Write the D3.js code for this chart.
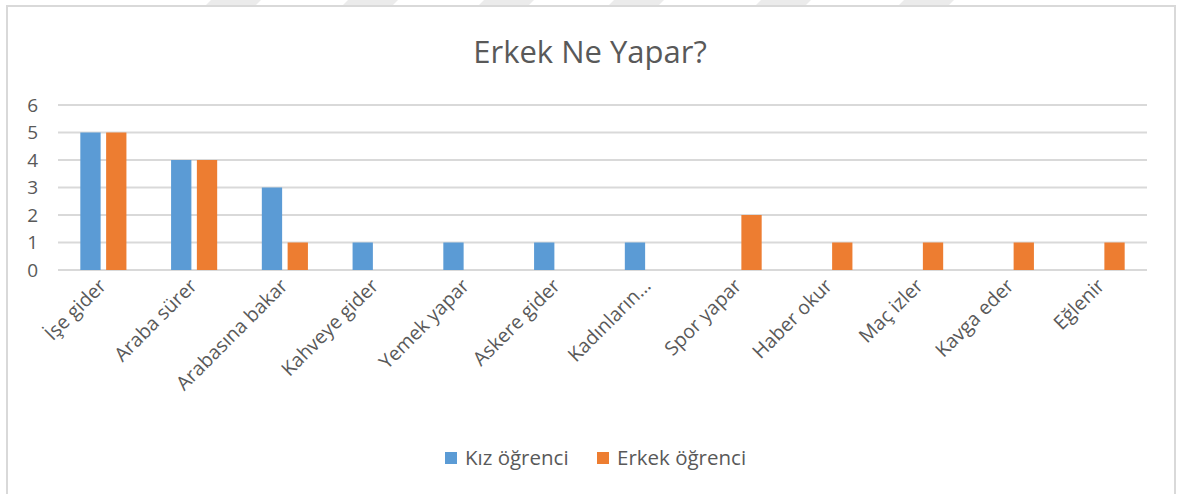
<!DOCTYPE html>
<html lang="tr">
<head>
<meta charset="utf-8">
<title>Erkek Ne Yapar?</title>
<script src="https://cdn.jsdelivr.net/npm/d3@7"></script>
<style>
  body { margin: 0; background: #fff; }
  svg text { font-family: "Open Sans", "Liberation Sans", sans-serif; fill: #595959; }
</style>
</head>
<body>
<script>
// chart values
var categories = ["İşe gider", "Araba sürer", "Arabasına bakar", "Kahveye gider", "Yemek yapar",
                  "Askere gider", "Kadınların…", "Spor yapar", "Haber okur", "Maç izler",
                  "Kavga eder", "Eğlenir"];
var seriesNames = ["Kız öğrenci", "Erkek öğrenci"];
var kizValues   = [5, 4, 3, 1, 1, 1, 1, 0, 0, 0, 0, 0];
var erkekValues = [5, 4, 1, 0, 0, 0, 0, 2, 1, 1, 1, 1];
var yTicks = [0, 1, 2, 3, 4, 5, 6];
var colors = ["#5b9bd5", "#ed7d31"];

var w = 1182, h = 494;
var plotLeft = 58, plotRight = 1147, plotTop = 105, plotBottom = 270;

var dataset = categories.map(function(c, i) {
  return { cat: c, values: [kizValues[i], erkekValues[i]] };
});

var svg = d3.select("body").append("svg")
  .attr("width", w)
  .attr("height", h);

// faint watermark strip at the top edge
var marks = [205, 342, 478, 608, 755, 898];
svg.selectAll("polygon.wm")
  .data(marks)
  .enter()
  .append("polygon")
  .attr("class", "wm")
  .attr("points", function(d) {
    return [[d + 6, 0], [d + 56, 0], [d + 50, 6], [d, 6]].join(" ");
  })
  .attr("fill", "#ebebeb");

// chart frame
svg.append("rect")
  .attr("x", 7).attr("y", 6)
  .attr("width", 1168).attr("height", 520)
  .attr("fill", "none")
  .attr("stroke", "#d9d9d9")
  .attr("stroke-width", 2);

var x0 = d3.scaleBand()
  .domain(categories)
  .range([plotLeft, plotRight])
  .paddingInner(0.492)
  .paddingOuter(0.246);

var x1 = d3.scaleBand()
  .domain(seriesNames)
  .range([0, x0.bandwidth()])
  .paddingInner(0.213);

var y = d3.scaleLinear()
  .domain([0, 6])
  .range([plotBottom, plotTop]);

// gridlines
svg.selectAll("line.grid")
  .data(yTicks)
  .enter()
  .append("line")
  .attr("class", "grid")
  .attr("x1", plotLeft).attr("x2", plotRight)
  .attr("y1", function(d) { return y(d); })
  .attr("y2", function(d) { return y(d); })
  .attr("stroke", "#d9d9d9")
  .attr("stroke-width", 2);

// y labels
svg.selectAll("text.ytick")
  .data(yTicks)
  .enter()
  .append("text")
  .attr("class", "ytick")
  .attr("x", 38)
  .attr("y", function(d) { return y(d); })
  .attr("dy", "0.36em")
  .attr("text-anchor", "end")
  .attr("font-size", "19px")
  .text(function(d) { return d; });

// bars
var groups = svg.selectAll("g.cat")
  .data(dataset)
  .enter()
  .append("g")
  .attr("class", "cat")
  .attr("transform", function(d) { return "translate(" + x0(d.cat) + ",0)"; });

groups.selectAll("rect")
  .data(function(d) {
    return d.values.map(function(v, i) { return { s: seriesNames[i], v: v, i: i }; });
  })
  .enter()
  .append("rect")
  .attr("x", function(d) { return x1(d.s); })
  .attr("y", function(d) { return y(d.v); })
  .attr("width", x1.bandwidth())
  .attr("height", function(d) { return y(0) - y(d.v); })
  .attr("fill", function(d) { return colors[d.i]; });

// category labels, rotated
svg.selectAll("text.xtick")
  .data(categories)
  .enter()
  .append("text")
  .attr("class", "xtick")
  .attr("text-anchor", "end")
  .attr("font-size", "19.5px")
  .attr("transform", function(d) {
    var cx = x0(d) + x0.bandwidth() / 2 + 4;
    return "translate(" + cx + "," + (plotBottom + 17) + ") rotate(-45)";
  })
  .text(function(d) { return d; });

// title
svg.append("text")
  .attr("x", 590)
  .attr("y", 63)
  .attr("text-anchor", "middle")
  .attr("font-size", "31px")
  .text("Erkek Ne Yapar?");

// legend
var legendX = [445, 597];
var legend = svg.selectAll("g.legend")
  .data(seriesNames)
  .enter()
  .append("g")
  .attr("class", "legend")
  .attr("transform", function(d, i) { return "translate(" + legendX[i] + ",452)"; });

legend.append("rect")
  .attr("width", 12).attr("height", 12)
  .attr("fill", function(d, i) { return colors[i]; });

legend.append("text")
  .attr("x", 20)
  .attr("y", 6)
  .attr("dy", "0.36em")
  .attr("font-size", "20.5px")
  .text(function(d) { return d; });
</script>
</body>
</html>
